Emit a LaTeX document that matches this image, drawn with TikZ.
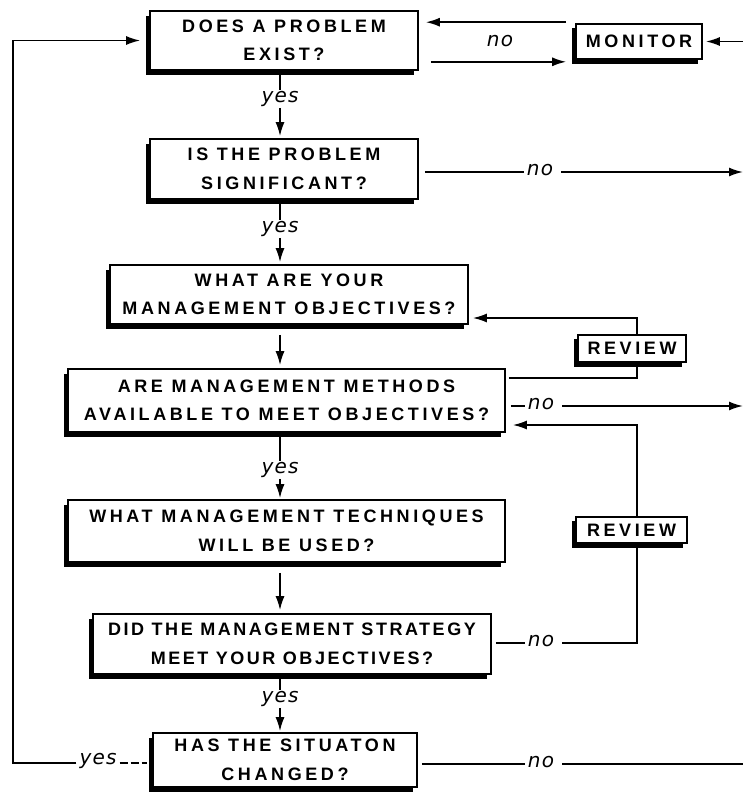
\documentclass[tikz,border=0pt]{standalone}
\usepackage{fontspec}
\newfontfamily\boxfontfam[LetterSpace=20]{Liberation Sans}
\newfontfamily\boxfonttight[LetterSpace=14]{Liberation Sans}
\newfontfamily\lblfontfam[LetterSpace=6]{DejaVu Sans}
\usetikzlibrary{arrows.meta,shadows,calc}
\tikzset{
  qbox/.style={draw=black, line width=1.6pt, fill=white, inner sep=0pt, align=center,
    font=\boxfontfam\bfseries\fontsize{18}{28.5}\selectfont,
    drop shadow={shadow xshift=-4pt, shadow yshift=-5pt, fill=black, opacity=1}},
  sbox/.style={qbox, drop shadow={shadow xshift=-4pt, shadow yshift=-4pt, fill=black, opacity=1}},
  lbl/.style={inner xsep=3pt, inner ysep=1pt, font=\lblfontfam\itshape\fontsize{20}{22}\selectfont},
  conn/.style={line width=1.8pt},
  arr/.style={conn, -{Latex[length=14pt,width=9pt]}},
}
\begin{document}
\begin{tikzpicture}[x=1pt,y=-1pt]
\useasboundingbox (0,0) rectangle (743,795);
\coordinate (fx) at (280,0);
\coordinate (re) at (743,0);
\coordinate (vx) at (637,0);

% boxes
\node[qbox, minimum width=268pt, minimum height=59pt] (b1) at (284,40.5) {DOES A PROBLEM\\EXIST?};
\node[qbox, minimum width=268pt, minimum height=60pt] (b2) at (284,169) {IS THE PROBLEM\\SIGNIFICANT?};
\node[qbox, minimum width=358pt, minimum height=59pt] (b3) at (289,294.5) {WHAT ARE YOUR\\MANAGEMENT OBJECTIVES?};
\node[qbox, minimum width=437pt, minimum height=63pt] (b4) at (286.5,400.5) {ARE MANAGEMENT METHODS\\AVAILABLE TO MEET OBJECTIVES?};
\node[qbox, minimum width=437pt, minimum height=62pt] (b5) at (286.5,531) {WHAT MANAGEMENT TECHNIQUES\\WILL BE USED?};
\node[qbox, minimum width=398pt, minimum height=60pt, font=\boxfonttight\bfseries\fontsize{18}{28.5}\selectfont] (b6) at (292,644) {DID THE MANAGEMENT STRATEGY\\MEET YOUR OBJECTIVES?};
\node[qbox, minimum width=264pt, minimum height=54pt] (b7) at (285,760) {HAS THE SITUATON\\CHANGED?};
\node[sbox, minimum width=126pt, minimum height=35pt] (mon) at (639,41.5) {MONITOR};
\node[sbox, minimum width=108pt, minimum height=27pt] (rev1) at (632,348.5) {REVIEW};
\node[sbox, minimum width=111pt, minimum height=26pt] (rev2) at (631.5,530) {REVIEW};

% labels
\node[lbl] (y1) at (280,99) {yes};
\node[lbl] (y2) at (280,229) {yes};
\node[lbl] (y4) at (280,470) {yes};
\node[lbl] (y6) at (280,699) {yes};
\node[lbl] (yL) at (98,761) {yes};
\node[lbl] (n1) at (500,41) {no};
\node[lbl] (n2) at (540,170) {no};
\node[lbl] (n4) at (541,404) {no};
\node[lbl] (n6) at (541,641) {no};
\node[lbl] (n7) at (541,762) {no};

% main flow
\draw[conn] (b1.south -| fx) -- (y1.north);
\draw[arr, shorten >=2pt] (y1.south) -- (b2.north -| fx);
\draw[conn] (b2.south -| fx) -- (y2.north);
\draw[arr, shorten >=2pt] (y2.south) -- (b3.north -| fx);
\draw[arr, shorten <=10pt, shorten >=3pt] (b3.south -| fx) -- (b4.north -| fx);
\draw[conn] (b4.south -| fx) -- (y4.north);
\draw[arr, shorten >=1pt] (y4.south) -- (b5.north -| fx);
\draw[arr, shorten <=10pt, shorten >=3pt] (b5.south -| fx) -- (b6.north -| fx);
\draw[conn] (b6.south -| fx) -- (y6.north);
\draw[arr, shorten >=1pt] (y6.south) -- (b7.north -| fx);

% left feedback loop
\draw[arr, shorten >=9pt] (yL.west |- 0,763) -- (13,763) |- (b1.west);
\draw[conn, dash pattern=on 8pt off 3pt, shorten >=5pt] (yL.east |- 0,763) -- (b7.west |- 0,763);

% monitor
\draw[arr, shorten >=3pt] (re |- mon.east) -- (mon.east);
\draw[arr, shorten <=9pt, shorten >=7pt] ([yshift=1pt]mon.north west) -- ([yshift=1pt]mon.north west -| b1.east);
\draw[arr, shorten <=12pt, shorten >=9pt] ([yshift=-2pt]mon.south west -| b1.east) -- ([yshift=-2pt]mon.south west);

% no branches to the right
\draw[conn, shorten <=6pt] (b2.east |- 0,172) -- (n2.west |- 0,172);
\draw[arr, shorten <=5pt] (n2.east |- 0,172) -- (re |- 0,172);
\draw[conn, shorten <=5pt] (b4.east |- 0,406) -- (n4.west |- 0,406);
\draw[arr, shorten <=5pt] (n4.east |- 0,406) -- (re |- 0,406);
\draw[conn, shorten <=4pt] (b7.east |- 0,764) -- (n7.west |- 0,764);
\draw[conn, shorten <=5pt] (n7.east |- 0,764) -- (re |- 0,764);

% review loops
\draw[conn, shorten <=3pt] (b4.east |- 0,378) -- (vx |- 0,378) -- (vx |- rev1.south);
\draw[arr, shorten >=4pt] (vx |- rev1.north) -- (vx |- 0,318) -- (b3.east |- 0,318);
\draw[conn, shorten <=4pt] (b6.east |- 0,643) -- (n6.west |- 0,643);
\draw[conn, shorten <=5pt] (n6.east |- 0,643) -- (vx |- 0,643) -- (vx |- rev2.south);
\draw[arr, shorten >=7pt] (vx |- rev2.north) -- (vx |- 0,425) -- (b4.east |- 0,425);
\end{tikzpicture}
\end{document}
